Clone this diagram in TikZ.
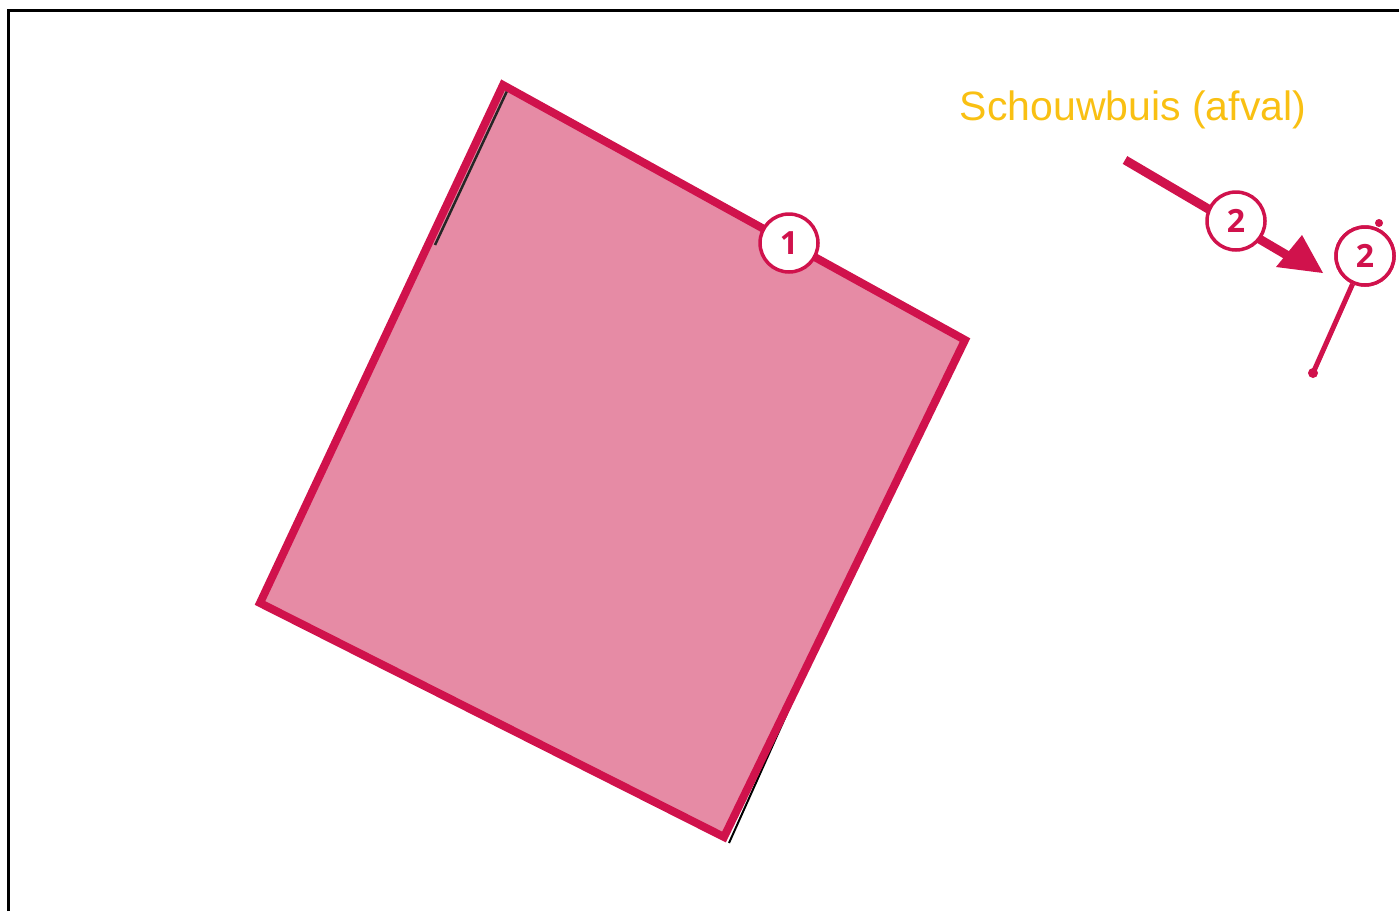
\documentclass[tikz,border=0pt]{standalone}
\usepackage{fontspec}
\setmainfont{Liberation Sans}
\newfontfamily\badgefont{Open Sans}
\definecolor{crim}{HTML}{D0124C}
\definecolor{pinkfill}{HTML}{E68BA5}
\definecolor{gold}{HTML}{F9C013}
\tikzset{
  badge/.style={circle, draw=crim, line width=3.5pt, fill=white, minimum size=58pt, inner sep=0pt, text=crim, font=\badgefont\bfseries\fontsize{32}{32}\selectfont},
  redline/.style={draw=crim, line width=8pt, line join=miter},
}
\begin{document}
\begin{tikzpicture}[x=1pt,y=-1pt]
\useasboundingbox (0,0) rectangle (1399,911);
% frame
\draw[line width=3pt] (8,911) -- (8,10) -- (1399,10);
% square
\coordinate (t) at (503,85);
\coordinate (r) at (965,340);
\coordinate (b) at (724,837);
\coordinate (l) at (260,603);
\fill[pinkfill] (t) -- (r) -- (b) -- (l) -- cycle;
\draw[black!85, line width=2.5pt] (507,91) -- (435,245);
\draw[black, line width=2pt] (836,604) -- (729,843);
\draw[redline] (t) -- (r) -- (b) -- (l) -- cycle;
\node[badge] (n1) at (789,243) {1};
% label
\node[text=gold, font=\fontsize{41}{41}\selectfont] (lab) at (1133,110) {Schouwbuis (afval)};
% arrow
\coordinate (as) at (1125,160);
\coordinate (ae) at (1290,257);
\coordinate (tip) at (1323,273);
\draw[crim, line width=9pt] (as) -- (ae);
\fill[crim] (tip) -- (1276,267) -- (1302,235) -- cycle;
\node[badge] (n2a) at (1236,221) {2};
% pin
\node[badge] (n2b) at (1365,256) {2};
\coordinate (pe) at (1313,373);
\draw[crim, line width=5pt] (pe) -- (n2b);
\fill[crim] (pe) circle (5pt);
\fill[crim] (1379,223) circle (4pt);
\node[badge] at (n2b) {2};
\end{tikzpicture}
\end{document}
